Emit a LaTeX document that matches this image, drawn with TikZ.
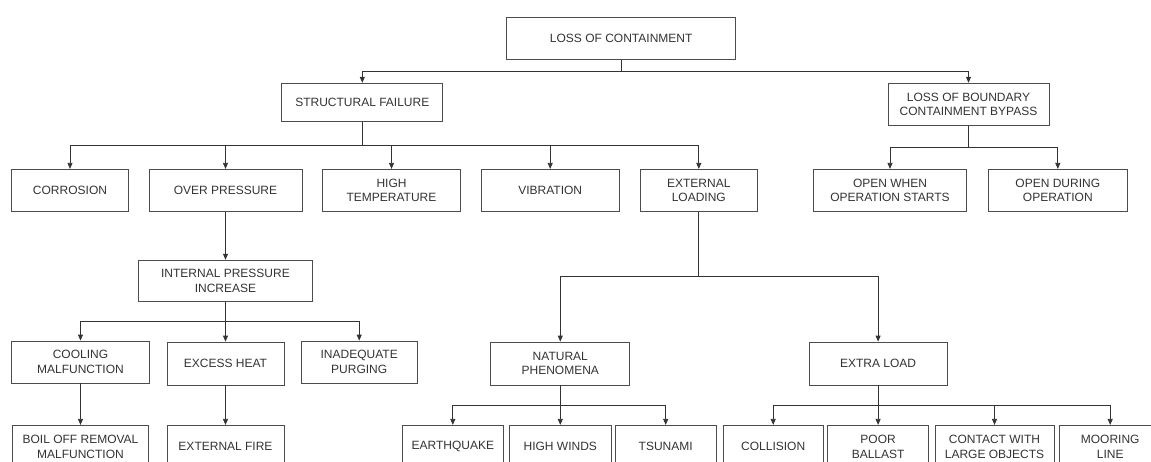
\documentclass[tikz,border=0pt]{standalone}
\usepackage{fontspec}
\setmainfont{Liberation Sans}
\usetikzlibrary{arrows.meta,calc}
\begin{document}
\begin{tikzpicture}[x=1pt,y=-1pt,
    box/.style={draw=black!70,line width=0.8pt,text=black!80,inner sep=0pt,
      align=center,font=\fontsize{12}{14.5}\selectfont,minimum height=42pt},
    branch/.style={draw=black!80,line width=0.8pt,-{Triangle[width=5pt,length=6pt]},
      to path={(\tikztostart) |- ($(\tikztostart)!0.5!(\tikztotarget)$) -| (\tikztotarget)}}]
      \useasboundingbox (0,0) rectangle (1151,462);
      \clip (0,0) rectangle (1151,462);
      \node[box,minimum width=229pt] (loc) at (621.2,38.3) {LOSS OF CONTAINMENT};
      \node[box,minimum width=161pt,minimum height=38pt] (sf) at (362.3,102.2) {STRUCTURAL FAILURE};
      \node[box,minimum width=161pt] (lob) at (968.5,104.2) {LOSS OF BOUNDARY\\CONTAINMENT BYPASS};
      \node[box,minimum width=117pt] (cor) at (70,190.3) {CORROSION};
      \node[box,minimum width=153pt] (op) at (225.5,190.3) {OVER PRESSURE};
      \node[box,minimum width=138pt] (ht) at (391.5,190.3) {HIGH\\TEMPERATURE};
      \node[box,minimum width=138pt] (vib) at (550.2,190.3) {VIBRATION};
      \node[box,minimum width=117pt] (el) at (698.8,190.3) {EXTERNAL\\LOADING};
      \node[box,minimum width=153pt] (ows) at (890,190.3) {OPEN WHEN\\OPERATION STARTS};
      \node[box,minimum width=139pt] (odo) at (1057.8,190.3) {OPEN DURING\\OPERATION};
      \node[box,minimum width=174pt,minimum height=41pt] (ipi) at (225.5,280.7) {INTERNAL PRESSURE\\INCREASE};
      \node[box,minimum width=138pt] (cm) at (80.5,362) {COOLING\\MALFUNCTION};
      \node[box,minimum width=117pt,minimum height=43pt] (eh) at (225.5,363.5) {EXCESS HEAT};
      \node[box,minimum width=116pt] (ip) at (359.2,362) {INADEQUATE\\PURGING};
      \node[box,minimum width=139pt,minimum height=43pt] (np) at (560.3,363.5) {NATURAL\\PHENOMENA};
      \node[box,minimum width=138pt,minimum height=43pt] (xl) at (878.1,363.5) {EXTRA LOAD};
      \node[box,minimum width=136pt,minimum height=43pt] (bor) at (80.5,446.8) {BOIL OFF REMOVAL\\MALFUNCTION};
      \node[box,minimum width=117pt,minimum height=43pt] (ef) at (225.5,446.8) {EXTERNAL FIRE};
      \node[box,minimum width=101pt,minimum height=43pt] (eq) at (452.8,446.8) {EARTHQUAKE};
      \node[box,minimum width=102pt,minimum height=43pt] (hw) at (560.3,446.8) {HIGH WINDS};
      \node[box,minimum width=101pt,minimum height=43pt] (ts) at (665.7,446.8) {TSUNAMI};
      \node[box,minimum width=100pt,minimum height=43pt] (col) at (773.2,446.8) {COLLISION};
      \node[box,minimum width=101pt,minimum height=43pt] (pb) at (878.1,446.8) {POOR\\BALLAST};
      \node[box,minimum width=119pt,minimum height=43pt] (cwlo) at (994.5,446.8) {CONTACT WITH\\LARGE OBJECTS};
      \node[box,minimum width=101pt,minimum height=43pt] (ml) at (1110.2,446.8) {MOORING\\LINE};
      \begin{scope}[branch]
        \draw (loc.south) to (sf.north);
        \draw (loc.south) to (lob.north);
        \draw (sf.south) to (cor.north);
        \draw (sf.south) to (op.north);
        \draw (sf.south) to (ht.north);
        \draw (sf.south) to (vib.north);
        \draw (sf.south) to (el.north);
        \draw (lob.south) to (ows.north);
        \draw (lob.south) to (odo.north);
        \draw (op.south) to (ipi.north);
        \draw (ipi.south) to (cm.north);
        \draw (ipi.south) to (eh.north);
        \draw (ipi.south) to (ip.north);
        \draw (el.south) to (np.north);
        \draw (el.south) to (xl.north);
        \draw (cm.south) to (bor.north);
        \draw (eh.south) to (ef.north);
        \draw (np.south) to (eq.north);
        \draw (np.south) to (hw.north);
        \draw (np.south) to (ts.north);
        \draw (xl.south) to (col.north);
        \draw (xl.south) to (pb.north);
        \draw (xl.south) to (cwlo.north);
        \draw (xl.south) to (ml.north);
      \end{scope}
    \end{tikzpicture}
\end{document}
